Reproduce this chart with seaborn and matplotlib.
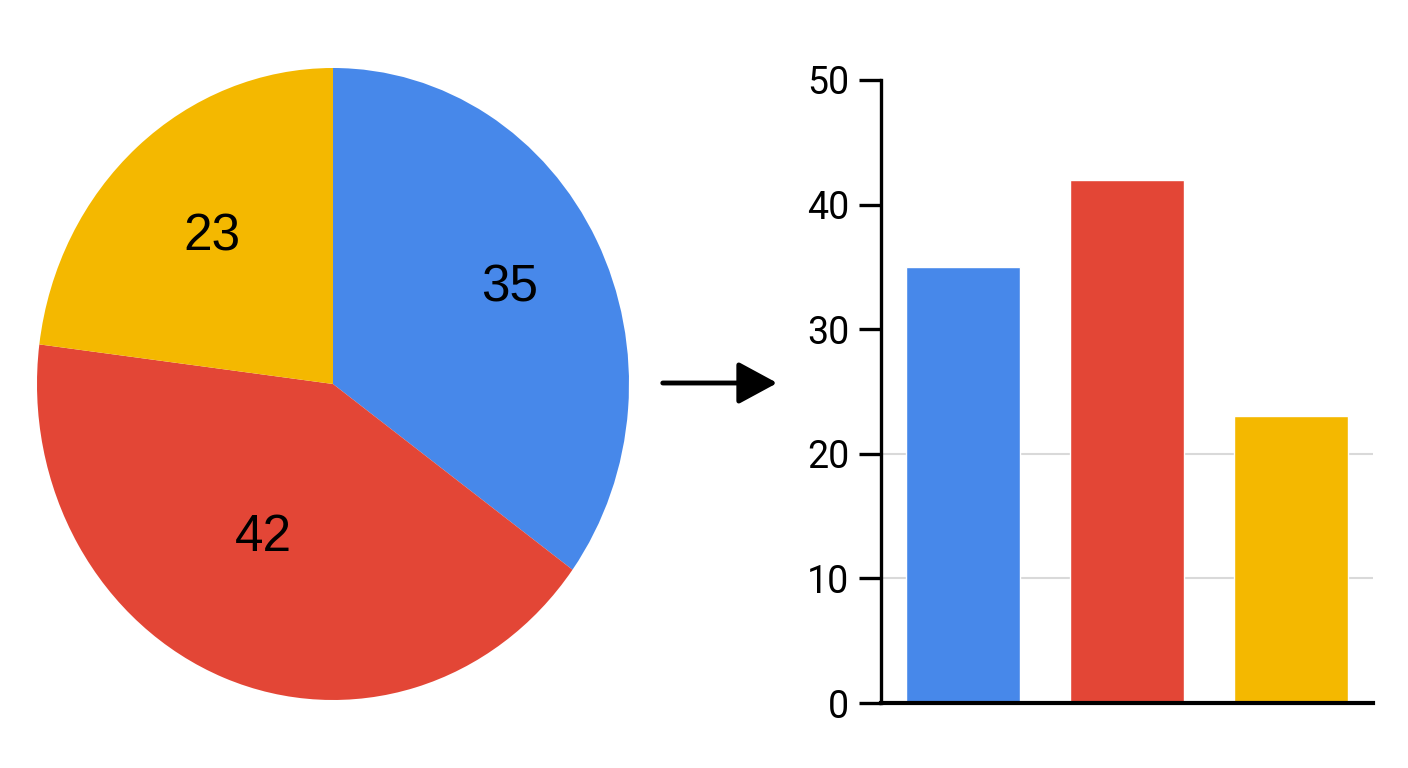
import numpy as np
import pandas as pd
import matplotlib
matplotlib.use("Agg")
import matplotlib.pyplot as plt
import seaborn as sns

categories = ["A", "B", "C"]
values = [35, 42, 23]
colors = ["#4788EA", "#E34636", "#F4B800"]
yticks = [0, 10, 20, 30, 40, 50]
grid_levels = [10, 20]

sns.set_theme(style="white")
plt.rcParams["font.family"] = ["Roboto", "DejaVu Sans"]

fig = plt.figure(figsize=(14.08, 7.68), dpi=100)
fig.patch.set_facecolor("white")

# pie on the left
W, H = 1408, 768
cx, cy, rx, ry = 333, 384, 296, 316
ax_pie = fig.add_axes([(cx - rx) / W, (H - cy - ry) / H, 2 * rx / W, 2 * ry / H])
wedges, _ = ax_pie.pie(values, colors=colors, startangle=90, counterclock=False,
                       radius=1, wedgeprops=dict(linewidth=0))
ax_pie.set_aspect("auto")
ax_pie.set_xlim(-1, 1)
ax_pie.set_ylim(-1, 1)
label_dist = [0.67, 0.54, 0.62]
for w, v, d in zip(wedges, values, label_dist):
    ang = np.deg2rad((w.theta1 + w.theta2) / 2 - (4 if v == 42 else 0))
    ax_pie.text(d * np.cos(ang), d * np.sin(ang), str(v), ha="center", va="center",
                fontsize=37, color="black", family=["Liberation Sans", "DejaVu Sans"])

# arrow between the charts
fig.add_artist(matplotlib.patches.FancyArrowPatch(
    (660 / W, (H - 383) / H), (780 / W, (H - 383) / H), transform=fig.transFigure,
    arrowstyle="-|>,head_length=1.2,head_width=0.65", mutation_scale=20,
    color="black", linewidth=3.5))

# bar chart on the right
ax = fig.add_axes([881 / W, (H - 703) / H, (1373 - 881) / W, (703 - 80) / H])
df = pd.DataFrame({"cat": categories, "val": values})
for g in grid_levels:
    ax.axhline(g, color="#d9d9d9", linewidth=1.5, zorder=0)
sns.barplot(data=df, x="cat", y="val", hue="cat", palette=colors, legend=False,
            width=0.7, saturation=1, ax=ax, zorder=2)
ax.set_xlim(-0.5, 2.5)
ax.set_ylim(0, 50)
ax.set_yticks(yticks)
ax.set_xticks([])
ax.set_xlabel("")
ax.set_ylabel("")
sns.despine(ax=ax)
ax.spines["left"].set_linewidth(2.4)
ax.spines["bottom"].set_linewidth(3)
ax.spines["left"].set_color("black")
ax.spines["bottom"].set_color("black")
ax.tick_params(axis="y", length=16, width=2.4, pad=7, labelsize=27, colors="black",
               direction="out", left=True)
ax.set_facecolor("white")

fig.savefig("out.png", dpi=100, facecolor="white")
